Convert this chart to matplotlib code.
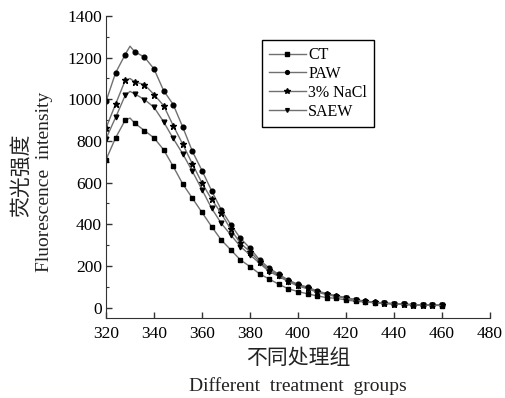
import matplotlib as mpl
mpl.use('Agg')
import matplotlib.pyplot as plt
from matplotlib.ticker import MultipleLocator

# wavelength points (330 is the unmarked peak of the line)
wave = [320, 324, 328, 330, 332, 336, 340, 344, 348, 352, 356, 360, 364, 368,
        372, 376, 380, 384, 388, 392, 396, 400, 404, 408, 412, 416, 420, 424,
        428, 432, 436, 440, 444, 448, 452, 456, 460]

ct = [710, 815, 900, 910, 885, 850, 815, 758, 678, 593, 525, 457, 389, 325,
      277, 229, 197, 162, 137, 112, 90, 77, 66, 56, 48, 44, 37, 30,
      27, 23, 20, 17, 15, 13, 12, 11, 10]
paw = [990, 1127, 1215, 1255, 1228, 1203, 1146, 1042, 975, 866, 750, 658, 561, 470,
       398, 333, 285, 229, 189, 160, 132, 112, 98, 80, 67, 57, 48, 38,
       31, 26, 22, 19, 16, 14, 13, 12, 11]
nacl = [862, 977, 1091, 1100, 1083, 1071, 1023, 970, 874, 784, 690, 598, 520, 453,
        375, 309, 269, 220, 180, 155, 128, 108, 94, 77, 64, 55, 46, 37,
        30, 25, 21, 18, 16, 14, 13, 12, 11]
saew = [811, 913, 1019, 1038, 1026, 999, 962, 892, 812, 738, 654, 566, 477, 405,
        349, 293, 253, 213, 173, 150, 124, 104, 90, 74, 62, 53, 45, 36,
        29, 24, 21, 18, 16, 14, 13, 12, 11]

labels = ['CT', 'PAW', '3% NaCl', 'SAEW']
markers = ['s', 'o', '*', 'v']

serif = ['Liberation Serif', 'DejaVu Serif']
cjk = ['Noto Sans CJK SC', 'DejaVu Sans']
plt.rcParams['font.family'] = serif

fig = plt.figure(figsize=(5.05, 3.98), dpi=100)
ax = fig.add_axes([0.2099, 0.201, 0.7604, 0.7588])

# markers every 4 nm, skip the peak point
marks = [i for i in range(len(wave)) if wave[i] != 330]
for series, lab, mk in zip([ct, paw, nacl, saew], labels, markers):
    ms = 5.0 if mk == '*' else 3.4
    ax.plot(wave, series, color='#707070', linewidth=1.0, marker=mk,
            markersize=ms, markerfacecolor='black', markeredgecolor='black',
            markevery=marks, label=lab)

ax.set_xlim(320, 480)
ax.set_ylim(-50, 1400)
ax.xaxis.set_major_locator(MultipleLocator(20))
ax.yaxis.set_major_locator(MultipleLocator(200))
ax.yaxis.set_minor_locator(MultipleLocator(100))
ax.tick_params(axis='both', which='major', direction='in', length=4,
               width=1, labelsize=12.5, colors='#333333')
ax.tick_params(axis='y', which='minor', direction='in', length=2.5, width=0.8,
               colors='#333333')
ax.tick_params(axis='x', pad=6)
ax.tick_params(axis='y', pad=3)
for lab in ax.get_xticklabels() + ax.get_yticklabels():
    lab.set_color('black')

ax.spines['top'].set_visible(False)
ax.spines['right'].set_visible(False)
ax.spines['left'].set_color('#333333')
ax.spines['bottom'].set_color('#333333')

leg = ax.legend(loc='upper left', bbox_to_anchor=(0.406, 0.9205),
                borderaxespad=0, fancybox=False, edgecolor='black',
                fontsize=11.5, handlelength=2.3, handletextpad=0.15,
                labelspacing=0.18, borderpad=0.45, framealpha=1,
                markerscale=0.8)
leg.get_frame().set_linewidth(1.0)

# axis titles (Chinese line above English line)
fig.text(21 / 505, 1 - 175 / 398, '荧光强度', rotation=90, ha='center',
         va='center', fontsize=15, family=cjk, color='#222222')
fig.text(45 / 505, 1 - 182 / 398, 'Fluorescence  intensity', rotation=90,
         ha='center', va='center', fontsize=14, color='#222222')
fig.text(298 / 505, 1 - 358 / 398, '不同处理组', ha='center', va='center',
         fontsize=15, family=cjk, color='#222222')
fig.text(298 / 505, 1 - 386 / 398, 'Different  treatment  groups',
         ha='center', va='center', fontsize=14, color='#222222')

fig.savefig('out.png', dpi=100)
plt.close(fig)
